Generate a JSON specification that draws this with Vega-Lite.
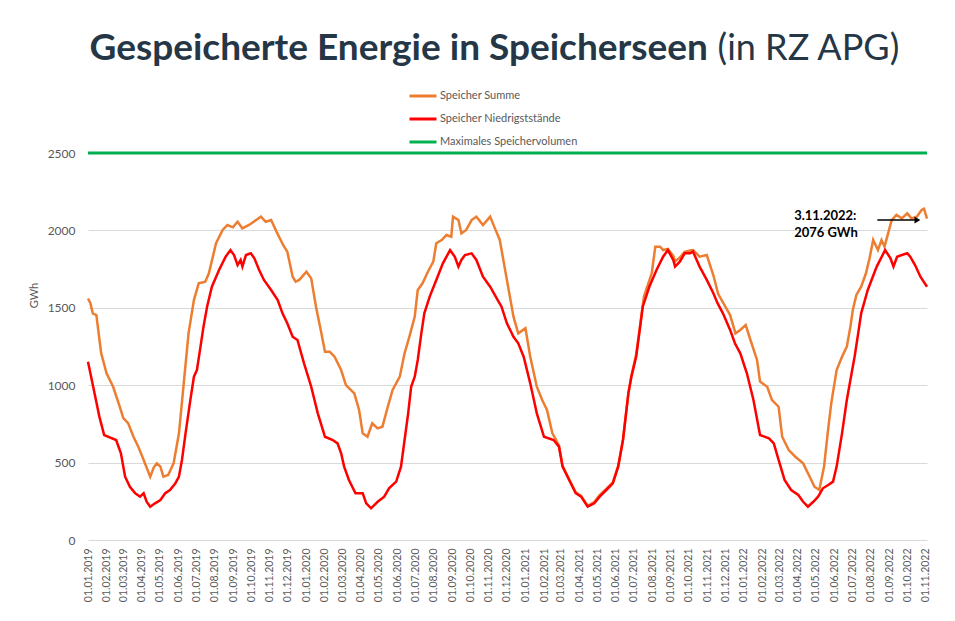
{
  "$schema": "https://vega.github.io/schema/vega-lite/v6.json",
  "autosize": "none",
  "width": 839,
  "height": 387,
  "padding": {"left": 88, "top": 153, "right": 28, "bottom": 81},
  "background": "white",
  "config": {
    "view": {"stroke": null},
    "font": "Lato"
  },
  "datasets": {
    "maxvol": [
      {"d": "2019-01-01", "v": 2500},
      {"d": "2022-11-03", "v": 2500}
    ],
    "titel": [
      {"d": "2021-11-02", "v": 3100, "t": "Gespeicherte Energie in Speicherseen"}
    ],
    "zusatz": [
      {"d": "2021-11-18", "v": 3100, "t": "(in RZ APG)"}
    ],
    "summe": [
      {"d": "2019-01-01", "v": 1560}, {"d": "2019-01-05", "v": 1530}, {"d": "2019-01-09", "v": 1464}, {"d": "2019-01-15", "v": 1453},
      {"d": "2019-01-23", "v": 1207}, {"d": "2019-02-01", "v": 1077}, {"d": "2019-02-12", "v": 990}, {"d": "2019-02-23", "v": 861},
      {"d": "2019-03-01", "v": 788}, {"d": "2019-03-09", "v": 755}, {"d": "2019-03-18", "v": 667}, {"d": "2019-03-26", "v": 603},
      {"d": "2019-04-04", "v": 517}, {"d": "2019-04-15", "v": 409}, {"d": "2019-04-21", "v": 470}, {"d": "2019-04-26", "v": 495},
      {"d": "2019-05-02", "v": 474}, {"d": "2019-05-07", "v": 409}, {"d": "2019-05-15", "v": 420}, {"d": "2019-05-24", "v": 495},
      {"d": "2019-06-02", "v": 689}, {"d": "2019-06-10", "v": 1012}, {"d": "2019-06-18", "v": 1335}, {"d": "2019-06-27", "v": 1550},
      {"d": "2019-07-05", "v": 1658}, {"d": "2019-07-16", "v": 1669}, {"d": "2019-07-22", "v": 1723}, {"d": "2019-08-03", "v": 1917},
      {"d": "2019-08-14", "v": 2003}, {"d": "2019-08-22", "v": 2035}, {"d": "2019-08-31", "v": 2020}, {"d": "2019-09-08", "v": 2056},
      {"d": "2019-09-16", "v": 2013}, {"d": "2019-09-27", "v": 2035}, {"d": "2019-10-09", "v": 2067}, {"d": "2019-10-17", "v": 2089},
      {"d": "2019-10-25", "v": 2056}, {"d": "2019-11-03", "v": 2067}, {"d": "2019-11-12", "v": 1992}, {"d": "2019-11-23", "v": 1906},
      {"d": "2019-11-30", "v": 1863}, {"d": "2019-12-09", "v": 1701}, {"d": "2019-12-14", "v": 1669}, {"d": "2019-12-20", "v": 1680},
      {"d": "2020-01-01", "v": 1733}, {"d": "2020-01-09", "v": 1690}, {"d": "2020-01-17", "v": 1507}, {"d": "2020-01-26", "v": 1335},
      {"d": "2020-02-01", "v": 1216}, {"d": "2020-02-09", "v": 1216}, {"d": "2020-02-17", "v": 1184}, {"d": "2020-02-28", "v": 1098},
      {"d": "2020-03-07", "v": 1001}, {"d": "2020-03-21", "v": 947}, {"d": "2020-03-29", "v": 840}, {"d": "2020-04-04", "v": 689},
      {"d": "2020-04-12", "v": 667}, {"d": "2020-04-20", "v": 754}, {"d": "2020-04-29", "v": 721}, {"d": "2020-05-07", "v": 732},
      {"d": "2020-05-16", "v": 861}, {"d": "2020-05-24", "v": 969}, {"d": "2020-06-05", "v": 1055}, {"d": "2020-06-13", "v": 1206},
      {"d": "2020-06-21", "v": 1313}, {"d": "2020-06-30", "v": 1443}, {"d": "2020-07-05", "v": 1615}, {"d": "2020-07-13", "v": 1658},
      {"d": "2020-07-22", "v": 1733}, {"d": "2020-07-31", "v": 1798}, {"d": "2020-08-05", "v": 1917}, {"d": "2020-08-14", "v": 1938},
      {"d": "2020-08-22", "v": 1970}, {"d": "2020-08-30", "v": 1959}, {"d": "2020-09-02", "v": 2089}, {"d": "2020-09-11", "v": 2067},
      {"d": "2020-09-16", "v": 1981}, {"d": "2020-09-24", "v": 2003}, {"d": "2020-10-03", "v": 2067}, {"d": "2020-10-11", "v": 2089},
      {"d": "2020-10-22", "v": 2035}, {"d": "2020-11-03", "v": 2089}, {"d": "2020-11-11", "v": 2013}, {"d": "2020-11-19", "v": 1940},
      {"d": "2020-11-28", "v": 1745}, {"d": "2020-12-06", "v": 1572}, {"d": "2020-12-12", "v": 1443}, {"d": "2020-12-20", "v": 1335},
      {"d": "2021-01-01", "v": 1368}, {"d": "2021-01-09", "v": 1184}, {"d": "2021-01-20", "v": 990}, {"d": "2021-01-29", "v": 904},
      {"d": "2021-02-06", "v": 840}, {"d": "2021-02-15", "v": 689}, {"d": "2021-02-20", "v": 655}, {"d": "2021-02-26", "v": 610},
      {"d": "2021-03-04", "v": 480}, {"d": "2021-03-15", "v": 392}, {"d": "2021-03-26", "v": 308}, {"d": "2021-04-04", "v": 285},
      {"d": "2021-04-15", "v": 220}, {"d": "2021-04-26", "v": 245}, {"d": "2021-05-05", "v": 290}, {"d": "2021-05-16", "v": 330},
      {"d": "2021-05-27", "v": 372}, {"d": "2021-06-05", "v": 480}, {"d": "2021-06-13", "v": 650}, {"d": "2021-06-22", "v": 950},
      {"d": "2021-06-27", "v": 1060}, {"d": "2021-07-05", "v": 1200}, {"d": "2021-07-11", "v": 1370}, {"d": "2021-07-18", "v": 1572},
      {"d": "2021-07-31", "v": 1723}, {"d": "2021-08-06", "v": 1895}, {"d": "2021-08-14", "v": 1895}, {"d": "2021-08-19", "v": 1873},
      {"d": "2021-08-27", "v": 1880}, {"d": "2021-09-05", "v": 1835}, {"d": "2021-09-08", "v": 1800}, {"d": "2021-09-16", "v": 1825},
      {"d": "2021-09-24", "v": 1862}, {"d": "2021-10-03", "v": 1870}, {"d": "2021-10-08", "v": 1873}, {"d": "2021-10-19", "v": 1830},
      {"d": "2021-10-31", "v": 1841}, {"d": "2021-11-11", "v": 1710}, {"d": "2021-11-19", "v": 1590}, {"d": "2021-12-01", "v": 1507},
      {"d": "2021-12-09", "v": 1453}, {"d": "2021-12-18", "v": 1335}, {"d": "2021-12-26", "v": 1357}, {"d": "2022-01-04", "v": 1389},
      {"d": "2022-01-12", "v": 1292}, {"d": "2022-01-23", "v": 1163}, {"d": "2022-01-28", "v": 1023}, {"d": "2022-02-09", "v": 990},
      {"d": "2022-02-17", "v": 904}, {"d": "2022-02-28", "v": 861}, {"d": "2022-03-06", "v": 667}, {"d": "2022-03-17", "v": 581},
      {"d": "2022-03-28", "v": 538}, {"d": "2022-04-10", "v": 495}, {"d": "2022-04-21", "v": 409}, {"d": "2022-04-29", "v": 344},
      {"d": "2022-05-07", "v": 323}, {"d": "2022-05-15", "v": 474}, {"d": "2022-05-21", "v": 689}, {"d": "2022-05-27", "v": 883},
      {"d": "2022-06-05", "v": 1098}, {"d": "2022-06-14", "v": 1184}, {"d": "2022-06-22", "v": 1249}, {"d": "2022-06-28", "v": 1378},
      {"d": "2022-07-02", "v": 1486}, {"d": "2022-07-08", "v": 1583}, {"d": "2022-07-16", "v": 1636}, {"d": "2022-07-24", "v": 1723},
      {"d": "2022-07-30", "v": 1820}, {"d": "2022-08-05", "v": 1938}, {"d": "2022-08-13", "v": 1873}, {"d": "2022-08-19", "v": 1938},
      {"d": "2022-08-24", "v": 1895}, {"d": "2022-08-30", "v": 1981}, {"d": "2022-09-05", "v": 2067}, {"d": "2022-09-13", "v": 2100},
      {"d": "2022-09-22", "v": 2078}, {"d": "2022-10-01", "v": 2110}, {"d": "2022-10-08", "v": 2078}, {"d": "2022-10-17", "v": 2089},
      {"d": "2022-10-25", "v": 2132}, {"d": "2022-10-29", "v": 2140}, {"d": "2022-11-03", "v": 2076}
    ],
    "niedrig": [
      {"d": "2019-01-01", "v": 1152}, {"d": "2019-01-12", "v": 947}, {"d": "2019-01-20", "v": 797}, {"d": "2019-01-28", "v": 678},
      {"d": "2019-02-17", "v": 646}, {"d": "2019-02-25", "v": 560}, {"d": "2019-03-04", "v": 409}, {"d": "2019-03-12", "v": 344},
      {"d": "2019-03-21", "v": 302}, {"d": "2019-03-29", "v": 280}, {"d": "2019-04-04", "v": 302}, {"d": "2019-04-09", "v": 247},
      {"d": "2019-04-15", "v": 215}, {"d": "2019-04-23", "v": 237}, {"d": "2019-05-02", "v": 258}, {"d": "2019-05-10", "v": 302},
      {"d": "2019-05-18", "v": 323}, {"d": "2019-05-27", "v": 366}, {"d": "2019-06-02", "v": 409}, {"d": "2019-06-07", "v": 517},
      {"d": "2019-06-13", "v": 689}, {"d": "2019-06-21", "v": 904}, {"d": "2019-06-27", "v": 1055}, {"d": "2019-07-02", "v": 1098},
      {"d": "2019-07-08", "v": 1249}, {"d": "2019-07-13", "v": 1378}, {"d": "2019-07-19", "v": 1507}, {"d": "2019-07-27", "v": 1636},
      {"d": "2019-08-08", "v": 1744}, {"d": "2019-08-19", "v": 1830}, {"d": "2019-08-27", "v": 1873}, {"d": "2019-09-02", "v": 1841},
      {"d": "2019-09-08", "v": 1776}, {"d": "2019-09-13", "v": 1809}, {"d": "2019-09-16", "v": 1766}, {"d": "2019-09-22", "v": 1841},
      {"d": "2019-09-30", "v": 1852}, {"d": "2019-10-06", "v": 1820}, {"d": "2019-10-14", "v": 1744}, {"d": "2019-10-22", "v": 1680},
      {"d": "2019-11-03", "v": 1615}, {"d": "2019-11-14", "v": 1550}, {"d": "2019-11-22", "v": 1464}, {"d": "2019-11-30", "v": 1400},
      {"d": "2019-12-09", "v": 1313}, {"d": "2019-12-17", "v": 1292}, {"d": "2019-12-28", "v": 1141}, {"d": "2020-01-09", "v": 990},
      {"d": "2020-01-20", "v": 818}, {"d": "2020-02-01", "v": 667}, {"d": "2020-02-14", "v": 646}, {"d": "2020-02-22", "v": 624},
      {"d": "2020-02-28", "v": 560}, {"d": "2020-03-04", "v": 474}, {"d": "2020-03-12", "v": 388}, {"d": "2020-03-23", "v": 302},
      {"d": "2020-04-04", "v": 302}, {"d": "2020-04-10", "v": 237}, {"d": "2020-04-18", "v": 205}, {"d": "2020-04-29", "v": 247},
      {"d": "2020-05-10", "v": 280}, {"d": "2020-05-18", "v": 334}, {"d": "2020-05-30", "v": 377}, {"d": "2020-06-07", "v": 474},
      {"d": "2020-06-13", "v": 646}, {"d": "2020-06-19", "v": 818}, {"d": "2020-06-24", "v": 990}, {"d": "2020-06-30", "v": 1055},
      {"d": "2020-07-05", "v": 1163}, {"d": "2020-07-11", "v": 1335}, {"d": "2020-07-16", "v": 1464}, {"d": "2020-07-25", "v": 1572},
      {"d": "2020-08-05", "v": 1680}, {"d": "2020-08-16", "v": 1787}, {"d": "2020-08-28", "v": 1873}, {"d": "2020-09-05", "v": 1830},
      {"d": "2020-09-11", "v": 1766}, {"d": "2020-09-16", "v": 1809}, {"d": "2020-09-22", "v": 1841}, {"d": "2020-10-03", "v": 1852},
      {"d": "2020-10-11", "v": 1809}, {"d": "2020-10-22", "v": 1701}, {"d": "2020-11-03", "v": 1636}, {"d": "2020-11-14", "v": 1561},
      {"d": "2020-11-22", "v": 1507}, {"d": "2020-12-01", "v": 1400}, {"d": "2020-12-12", "v": 1313}, {"d": "2020-12-20", "v": 1271},
      {"d": "2020-12-29", "v": 1184}, {"d": "2021-01-09", "v": 1012}, {"d": "2021-01-20", "v": 818}, {"d": "2021-02-01", "v": 667},
      {"d": "2021-02-17", "v": 646}, {"d": "2021-02-26", "v": 603}, {"d": "2021-03-04", "v": 474}, {"d": "2021-03-15", "v": 388},
      {"d": "2021-03-26", "v": 302}, {"d": "2021-04-04", "v": 280}, {"d": "2021-04-15", "v": 215}, {"d": "2021-04-26", "v": 237},
      {"d": "2021-05-05", "v": 280}, {"d": "2021-05-16", "v": 323}, {"d": "2021-05-27", "v": 366}, {"d": "2021-06-05", "v": 474},
      {"d": "2021-06-13", "v": 646}, {"d": "2021-06-22", "v": 947}, {"d": "2021-06-27", "v": 1055}, {"d": "2021-07-05", "v": 1184},
      {"d": "2021-07-11", "v": 1357}, {"d": "2021-07-16", "v": 1507}, {"d": "2021-07-27", "v": 1636}, {"d": "2021-08-08", "v": 1744},
      {"d": "2021-08-19", "v": 1830}, {"d": "2021-08-27", "v": 1873}, {"d": "2021-09-05", "v": 1809}, {"d": "2021-09-08", "v": 1766},
      {"d": "2021-09-16", "v": 1798}, {"d": "2021-09-24", "v": 1852}, {"d": "2021-10-03", "v": 1852}, {"d": "2021-10-08", "v": 1863},
      {"d": "2021-10-19", "v": 1766}, {"d": "2021-10-31", "v": 1680}, {"d": "2021-11-11", "v": 1594}, {"d": "2021-11-18", "v": 1530},
      {"d": "2021-11-27", "v": 1464}, {"d": "2021-12-09", "v": 1357}, {"d": "2021-12-17", "v": 1271}, {"d": "2021-12-26", "v": 1206},
      {"d": "2022-01-06", "v": 1077}, {"d": "2022-01-17", "v": 904}, {"d": "2022-01-28", "v": 678}, {"d": "2022-02-12", "v": 657},
      {"d": "2022-02-20", "v": 624}, {"d": "2022-02-28", "v": 517}, {"d": "2022-03-10", "v": 388}, {"d": "2022-03-21", "v": 323},
      {"d": "2022-04-02", "v": 291}, {"d": "2022-04-10", "v": 247}, {"d": "2022-04-18", "v": 215}, {"d": "2022-04-27", "v": 247},
      {"d": "2022-05-05", "v": 280}, {"d": "2022-05-13", "v": 334}, {"d": "2022-05-22", "v": 355}, {"d": "2022-05-30", "v": 377},
      {"d": "2022-06-05", "v": 474}, {"d": "2022-06-14", "v": 689}, {"d": "2022-06-22", "v": 904}, {"d": "2022-06-28", "v": 1033},
      {"d": "2022-07-05", "v": 1184}, {"d": "2022-07-11", "v": 1335}, {"d": "2022-07-16", "v": 1464}, {"d": "2022-07-27", "v": 1615},
      {"d": "2022-08-11", "v": 1766}, {"d": "2022-08-25", "v": 1873}, {"d": "2022-09-03", "v": 1820}, {"d": "2022-09-08", "v": 1766},
      {"d": "2022-09-14", "v": 1830}, {"d": "2022-09-22", "v": 1841}, {"d": "2022-10-01", "v": 1852}, {"d": "2022-10-06", "v": 1830},
      {"d": "2022-10-14", "v": 1776}, {"d": "2022-10-23", "v": 1701}, {"d": "2022-11-03", "v": 1636}
    ]
  },
  "encoding": {
    "x": {
      "field": "d",
      "type": "temporal",
      "scale": {
        "type": "utc",
        "domain": [
          {"year": 2019, "month": 1, "date": 1, "utc": true},
          {"year": 2022, "month": 11, "date": 3, "utc": true}
        ]
      },
      "axis": {
        "title": null,
        "format": "%d.%m.%Y",
        "labelAngle": -90,
        "labelFont": "Lato",
        "labelFontSize": 10.5,
        "labelColor": "#595959",
        "labelPadding": 8,
        "labelOverlap": false,
        "labelFlush": false,
        "domain": false,
        "ticks": false,
        "grid": false,
        "values": [
          {"year": 2019, "month": 1, "date": 1, "utc": true}, {"year": 2019, "month": 2, "date": 1, "utc": true},
          {"year": 2019, "month": 3, "date": 1, "utc": true}, {"year": 2019, "month": 4, "date": 1, "utc": true},
          {"year": 2019, "month": 5, "date": 1, "utc": true}, {"year": 2019, "month": 6, "date": 1, "utc": true},
          {"year": 2019, "month": 7, "date": 1, "utc": true}, {"year": 2019, "month": 8, "date": 1, "utc": true},
          {"year": 2019, "month": 9, "date": 1, "utc": true}, {"year": 2019, "month": 10, "date": 1, "utc": true},
          {"year": 2019, "month": 11, "date": 1, "utc": true}, {"year": 2019, "month": 12, "date": 1, "utc": true},
          {"year": 2020, "month": 1, "date": 1, "utc": true}, {"year": 2020, "month": 2, "date": 1, "utc": true},
          {"year": 2020, "month": 3, "date": 1, "utc": true}, {"year": 2020, "month": 4, "date": 1, "utc": true},
          {"year": 2020, "month": 5, "date": 1, "utc": true}, {"year": 2020, "month": 6, "date": 1, "utc": true},
          {"year": 2020, "month": 7, "date": 1, "utc": true}, {"year": 2020, "month": 8, "date": 1, "utc": true},
          {"year": 2020, "month": 9, "date": 1, "utc": true}, {"year": 2020, "month": 10, "date": 1, "utc": true},
          {"year": 2020, "month": 11, "date": 1, "utc": true}, {"year": 2020, "month": 12, "date": 1, "utc": true},
          {"year": 2021, "month": 1, "date": 1, "utc": true}, {"year": 2021, "month": 2, "date": 1, "utc": true},
          {"year": 2021, "month": 3, "date": 1, "utc": true}, {"year": 2021, "month": 4, "date": 1, "utc": true},
          {"year": 2021, "month": 5, "date": 1, "utc": true}, {"year": 2021, "month": 6, "date": 1, "utc": true},
          {"year": 2021, "month": 7, "date": 1, "utc": true}, {"year": 2021, "month": 8, "date": 1, "utc": true},
          {"year": 2021, "month": 9, "date": 1, "utc": true}, {"year": 2021, "month": 10, "date": 1, "utc": true},
          {"year": 2021, "month": 11, "date": 1, "utc": true}, {"year": 2021, "month": 12, "date": 1, "utc": true},
          {"year": 2022, "month": 1, "date": 1, "utc": true}, {"year": 2022, "month": 2, "date": 1, "utc": true},
          {"year": 2022, "month": 3, "date": 1, "utc": true}, {"year": 2022, "month": 4, "date": 1, "utc": true},
          {"year": 2022, "month": 5, "date": 1, "utc": true}, {"year": 2022, "month": 6, "date": 1, "utc": true},
          {"year": 2022, "month": 7, "date": 1, "utc": true}, {"year": 2022, "month": 8, "date": 1, "utc": true},
          {"year": 2022, "month": 9, "date": 1, "utc": true}, {"year": 2022, "month": 10, "date": 1, "utc": true},
          {"year": 2022, "month": 11, "date": 1, "utc": true}
        ]
      }
    },
    "y": {
      "field": "v",
      "type": "quantitative",
      "scale": {"domain": [0, 2500], "nice": false, "zero": true},
      "axis": {
        "title": "GWh",
        "titleFont": "Lato",
        "titleFontSize": 11,
        "titleFontWeight": "normal",
        "titleColor": "#595959",
        "titleX": -49,
        "titleY": 142,
        "format": "d",
        "values": [0, 500, 1000, 1500, 2000, 2500],
        "labelFont": "Lato",
        "labelFontSize": 12,
        "labelColor": "#595959",
        "labelPadding": 13,
        "domain": false,
        "ticks": false,
        "grid": true,
        "gridColor": "#d9d9d9",
        "gridWidth": 1
      }
    }
  },
  "layer": [
    {
      "data": {"name": "maxvol"},
      "mark": {"type": "line", "strokeWidth": 3},
      "encoding": {
        "color": {
          "datum": "Maximales Speichervolumen",
          "scale": {
            "domain": ["Speicher Summe", "Speicher Niedrigststände", "Maximales Speichervolumen"],
            "range": ["#ED7D31", "#FF0000", "#00B050"]
          },
          "legend": {
            "title": null,
            "orient": "none",
            "legendX": 320,
            "legendY": -72,
            "symbolType": "stroke",
            "symbolStrokeWidth": 3,
            "symbolSize": 729,
            "labelFont": "Lato",
            "labelFontSize": 11,
            "labelColor": "#595959",
            "labelOffset": 2,
            "rowPadding": 2
          }
        }
      }
    },
    {
      "data": {"name": "summe"},
      "mark": {"type": "line", "strokeWidth": 2.5},
      "encoding": {
        "color": {
          "datum": "Speicher Summe",
          "scale": {
            "domain": ["Speicher Summe", "Speicher Niedrigststände", "Maximales Speichervolumen"],
            "range": ["#ED7D31", "#FF0000", "#00B050"]
          }
        }
      }
    },
    {
      "data": {"name": "niedrig"},
      "mark": {"type": "line", "strokeWidth": 2.5},
      "encoding": {
        "color": {
          "datum": "Speicher Niedrigststände",
          "scale": {
            "domain": ["Speicher Summe", "Speicher Niedrigststände", "Maximales Speichervolumen"],
            "range": ["#ED7D31", "#FF0000", "#00B050"]
          }
        }
      }
    },
    {
      "data": {"values": [{"d": "2022-03-26", "v": 2096}]},
      "mark": {
        "type": "text",
        "text": ["3.11.2022:", "2076 GWh"],
        "align": "left",
        "baseline": "middle",
        "lineHeight": 17,
        "font": "Lato",
        "fontSize": 13,
        "fontWeight": "bold",
        "color": "#000000"
      }
    },
    {
      "data": {"values": [{"d": "2022-08-12", "d2": "2022-10-17", "v": 2067}]},
      "mark": {"type": "rule", "strokeWidth": 1.5, "color": "#000000"},
      "encoding": {
        "x2": {"field": "d2"}
      }
    },
    {
      "data": {"values": [{"d": "2022-10-18", "v": 2067}]},
      "mark": {"type": "point", "shape": "triangle-right", "size": 45, "filled": true, "color": "#000000", "opacity": 1}
    },
    {
      "data": {"name": "titel"},
      "mark": {
        "type": "text",
        "align": "right",
        "baseline": "alphabetic",
        "font": "Lato",
        "fontSize": 37,
        "fontWeight": "bold",
        "color": "#253746",
        "clip": false
      },
      "encoding": {"text": {"field": "t"}}
    },
    {
      "data": {"name": "zusatz"},
      "mark": {
        "type": "text",
        "align": "left",
        "baseline": "alphabetic",
        "font": "Lato",
        "fontSize": 36,
        "fontWeight": "normal",
        "color": "#253746",
        "clip": false
      },
      "encoding": {"text": {"field": "t"}}
    }
  ]
}
